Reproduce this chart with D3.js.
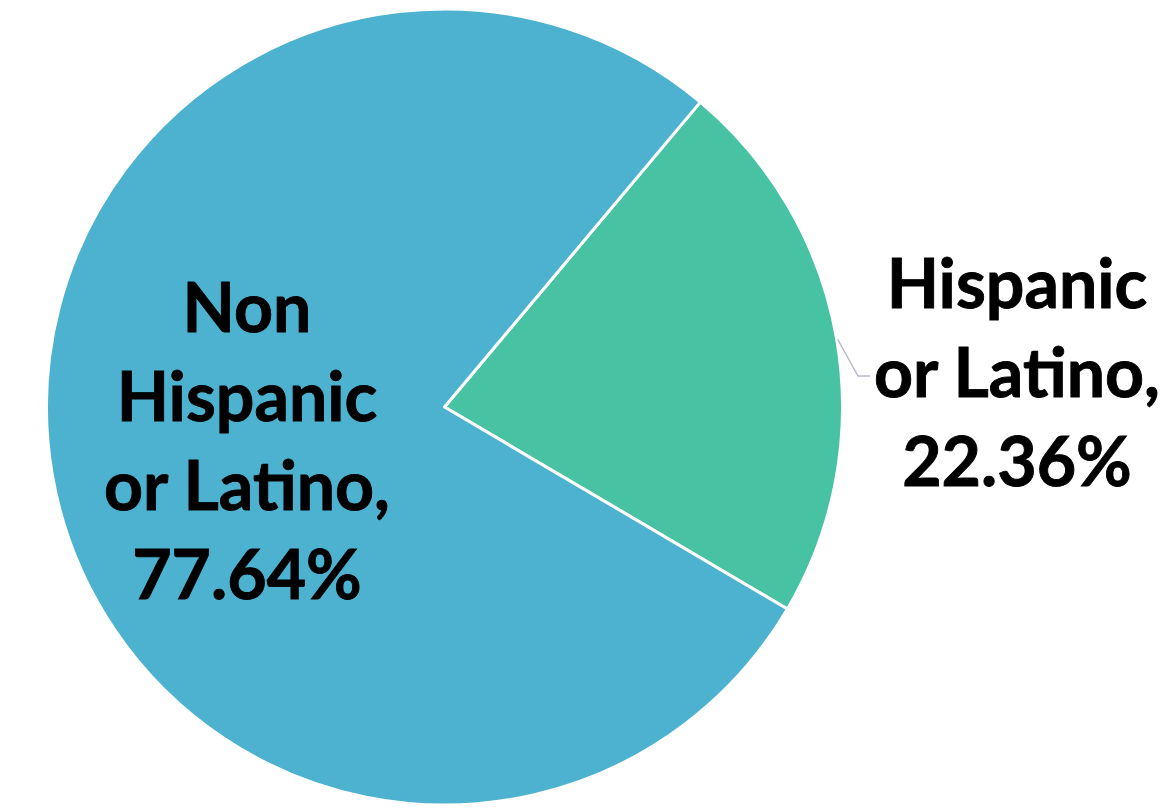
<!DOCTYPE html>
<html>
<head>
<meta charset="utf-8">
<script src="https://cdn.jsdelivr.net/npm/d3@7"></script>
<style>
  html, body { margin: 0; padding: 0; background: #fff; }
  svg { display: block; }
</style>
</head>
<body>
<script>
// Ethnicity breakdown (percent of total)
const categories = ["Hispanic or Latino", "Non Hispanic or Latino"];
const values = [22.36, 77.64];
const labelLines = [
  ["Hispanic", "or Latino,", "22.36%"],
  ["Non", "Hispanic", "or Latino,", "77.64%"]
];
const colors = ["#47C2A3", "#4DB2D0"];

const W = 1171, H = 809;
const cx = 444.5, cy = 407, R = 398;
const firstSliceAngle = 40 * Math.PI / 180;

const svg = d3.select("body").append("svg")
  .attr("width", W).attr("height", H);

const pie = d3.pie()
  .sort(null)
  .value(d => d)
  .startAngle(firstSliceAngle)
  .endAngle(firstSliceAngle + 2 * Math.PI);

const arcs = pie(values);
const arc = d3.arc().innerRadius(0).outerRadius(R);

const g = svg.append("g").attr("transform", `translate(${cx},${cy})`);

g.selectAll("path.slice")
  .data(arcs)
  .join("path")
  .attr("class", "slice")
  .attr("d", arc)
  .attr("fill", (d, i) => colors[i])
  .attr("stroke", "#fff")
  .attr("stroke-width", 3)
  .attr("stroke-linejoin", "round");

// Label placement: Hispanic label sits outside with a leader line,
// the majority slice label sits inside its slice.
const fontSize = 68;
const lineGap = 89;
const labelPos = [
  { x: 1017, yFirst: 308 },
  { x: 247, yFirst: 332 }
];

// Leader line from the middle of the Hispanic slice's rim to its label
const hisp = arcs[0];
const mid = (hisp.startAngle + hisp.endAngle) / 2;
const edge = [cx + Math.sin(mid) * (R + 1), cy - Math.cos(mid) * (R + 1)];
svg.append("polyline")
  .attr("points", [edge, [858, 376], [870, 376]].map(p => p.join(",")).join(" "))
  .attr("fill", "none")
  .attr("stroke", "#B9B5C9")
  .attr("stroke-width", 1.3);

labelLines.forEach((lines, i) => {
  const t = svg.append("text")
    .attr("text-anchor", "middle")
    .attr("font-family", "Lato, 'Open Sans', sans-serif")
    .attr("font-weight", 700)
    .attr("font-size", fontSize)
    .attr("fill", "#000")
    .attr("stroke", "#000")
    .attr("stroke-width", 0.9);
  lines.forEach((ln, j) => {
    t.append("tspan")
      .attr("x", labelPos[i].x)
      .attr("y", labelPos[i].yFirst + j * lineGap)
      .text(ln);
  });
});
</script>
</body>
</html>
